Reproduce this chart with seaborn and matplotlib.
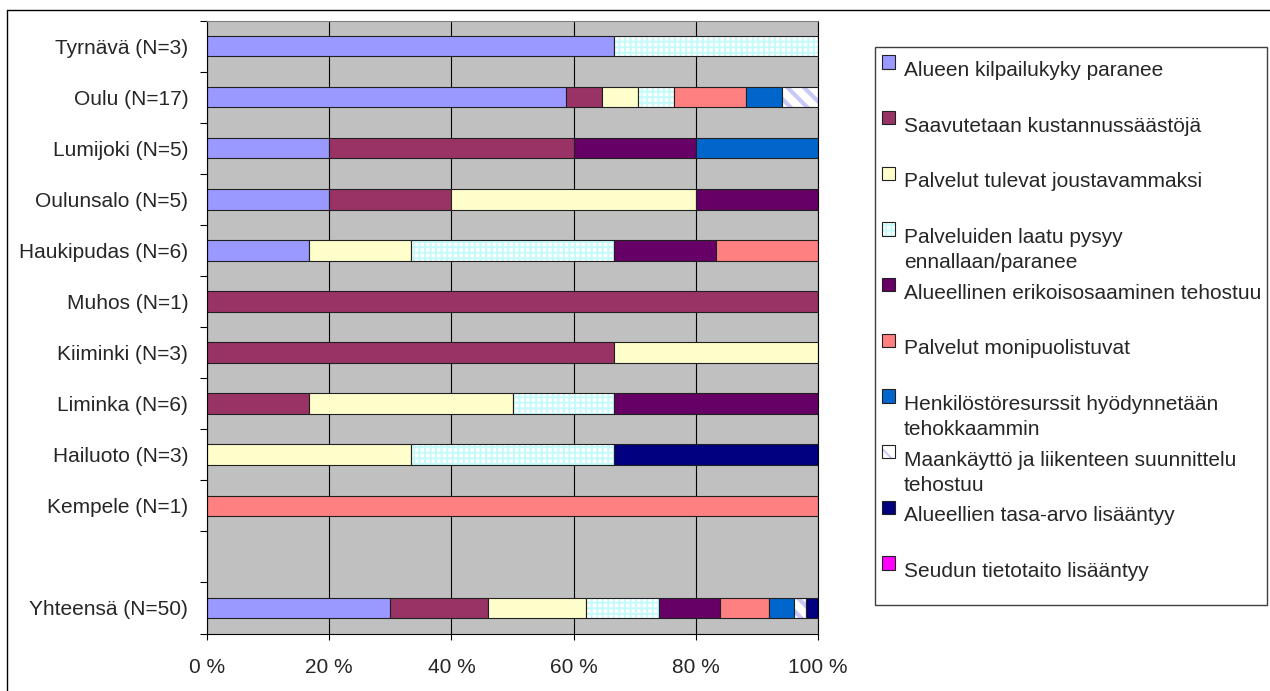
import numpy as np
import pandas as pd
import seaborn as sns
import matplotlib.pyplot as plt
import matplotlib.patches as mpatches
from matplotlib.legend_handler import HandlerPatch
from matplotlib.lines import Line2D

# rows of the chart, top to bottom (one empty row before the total)
KUNNAT = [
    "Tyrnävä (N=3)",
    "Oulu (N=17)",
    "Lumijoki (N=5)",
    "Oulunsalo (N=5)",
    "Haukipudas (N=6)",
    "Muhos (N=1)",
    "Kiiminki (N=3)",
    "Liminka (N=6)",
    "Hailuoto (N=3)",
    "Kempele (N=1)",
    " ",
    "Yhteensä (N=50)",
]

SARJAT = [
    "Alueen kilpailukyky paranee",
    "Saavutetaan kustannussäästöjä",
    "Palvelut tulevat joustavammaksi",
    "Palveluiden laatu pysyy ennallaan/paranee",
    "Alueellinen erikoisosaaminen tehostuu",
    "Palvelut monipuolistuvat",
    "Henkilöstöresurssit hyödynnetään tehokkaammin",
    "Maankäyttö ja liikenteen suunnittelu tehostuu",
    "Alueellien tasa-arvo lisääntyy",
    "Seudun tietotaito lisääntyy",
]

LEGEND_LABELS = [
    "Alueen kilpailukyky paranee\n ",
    "Saavutetaan kustannussäästöjä\n ",
    "Palvelut tulevat joustavammaksi\n ",
    "Palveluiden laatu pysyy\nennallaan/paranee",
    "Alueellinen erikoisosaaminen tehostuu\n ",
    "Palvelut monipuolistuvat\n ",
    "Henkilöstöresurssit hyödynnetään\ntehokkaammin",
    "Maankäyttö ja liikenteen suunnittelu\ntehostuu",
    "Alueellien tasa-arvo lisääntyy\n ",
    "Seudun tietotaito lisääntyy\n ",
]

# answer counts per row (same order as KUNNAT)
ALUEEN = [2, 10, 1, 1, 1, 0, 0, 0, 0, 0, 0, 15]
SAAVUTETAAN = [0, 1, 2, 1, 0, 1, 2, 1, 0, 0, 0, 8]
JOUSTAVAMMAKSI = [0, 1, 0, 2, 1, 0, 1, 2, 1, 0, 0, 8]
LAATU = [1, 1, 0, 0, 2, 0, 0, 1, 1, 0, 0, 6]
ERIKOISOSAAMINEN = [0, 0, 1, 1, 1, 0, 0, 2, 0, 0, 0, 5]
MONIPUOLISTUVAT = [0, 2, 0, 0, 1, 0, 0, 0, 0, 1, 0, 4]
HENKILOSTO = [0, 1, 1, 0, 0, 0, 0, 0, 0, 0, 0, 2]
MAANKAYTTO = [0, 1, 0, 0, 0, 0, 0, 0, 0, 0, 0, 1]
TASA_ARVO = [0, 0, 0, 0, 0, 0, 0, 0, 1, 0, 0, 1]
TIETOTAITO = [0, 0, 0, 0, 0, 0, 0, 0, 0, 0, 0, 0]

XTICKS = [0, 20, 40, 60, 80, 100]

COLORS = ["#9999FF", "#993366", "#FFFFCC", "white", "#660066",
          "#FF8080", "#0066CC", "white", "#000080", "#FF00FF"]
HATCHES = [None, None, None, "+++", None, None, None, "\\\\", None, None]
HATCH_COLORS = [None, None, None, "#C4FAFA", None, None, None, "#C8C8F4", None, None]
HATCH_LW = [None, None, None, 1.4, None, None, None, 3.0, None, None]
EDGE = "#202020"
FS = 15
LINE_SHIFT = 1.02

sns.set_style("white")
plt.rcParams["font.family"] = ["Liberation Sans", "DejaVu Sans"]
plt.rcParams["hatch.linewidth"] = 1.4


def _handle_top(legend, orig_handle, xdescent, ydescent, width, height, fontsize):
    # colour box next to the first text line, like Excel does
    return mpatches.Rectangle((-xdescent, -ydescent + LINE_SHIFT * fontsize), width, height)


counts = np.array([ALUEEN, SAAVUTETAAN, JOUSTAVAMMAKSI, LAATU, ERIKOISOSAAMINEN,
                   MONIPUOLISTUVAT, HENKILOSTO, MAANKAYTTO, TASA_ARVO, TIETOTAITO], dtype=float)
totals = counts.sum(axis=0)
pct = np.divide(counts * 100, totals, out=np.zeros_like(counts), where=totals > 0)
left = np.cumsum(pct, axis=0) - pct

rows = []
for i, sarja in enumerate(SARJAT):
    for j, kunta in enumerate(KUNNAT):
        rows.append({"sarja": sarja, "kunta": kunta, "pct": pct[i, j], "left": left[i, j]})
df = pd.DataFrame(rows)

fig = plt.figure(figsize=(12.7, 6.91), dpi=100)
ax = fig.add_axes([207 / 1270, 1 - 633.5 / 691, (818 - 207) / 1270, (633.5 - 20.5) / 691])
ax.set_facecolor("#C0C0C0")

for i, sarja in enumerate(SARJAT):
    sub = df[(df["sarja"] == sarja) & (df["pct"] > 0)]
    if sub.empty:
        continue
    common = dict(data=sub, x="pct", y="kunta", order=KUNNAT, orient="h", width=0.4,
                  saturation=1, errorbar=None, left=sub["left"].to_numpy(), ax=ax)
    if HATCHES[i]:
        n0 = len(ax.patches)
        sns.barplot(color="white", hatch=HATCHES[i], edgecolor=HATCH_COLORS[i],
                    linewidth=0, **common)
        for p in ax.patches[n0:]:
            if hasattr(p, "set_hatch_linewidth"):
                p.set_hatch_linewidth(HATCH_LW[i])
        sns.barplot(fill=False, color=EDGE, linewidth=0.8, **common)
    else:
        sns.barplot(color=COLORS[i], edgecolor=EDGE, linewidth=0.8, **common)

n = len(KUNNAT)
ax.set_ylim(n - 0.5, -0.5)
ax.set_yticks(np.arange(n + 1) - 0.5)
ax.set_yticklabels([])
ax.set_yticks(np.arange(n), minor=True)
ax.set_yticklabels(KUNNAT, minor=True)
ax.tick_params(axis="y", which="major", left=True, length=5, width=0.8, color="black")
ax.tick_params(axis="y", which="minor", left=True, length=0, pad=13.5, labelsize=FS)

ax.set_xlim(0, 100)
ax.set_xticks(XTICKS)
ax.set_xticklabels([f"{t} %" for t in XTICKS])
ax.tick_params(axis="x", bottom=True, length=4.6, width=0.8, color="black", pad=13, labelsize=FS)
ax.grid(axis="x", color="black", linewidth=0.8)
ax.grid(axis="y", visible=False)
ax.set_axisbelow(True)
ax.set_xlabel("")
ax.set_ylabel("")
for side in ["left", "bottom", "right"]:
    ax.spines[side].set_color("black")
    ax.spines[side].set_linewidth(0.8)
ax.spines["top"].set_color("#808080")
ax.spines["top"].set_linewidth(0.8)

handles = []
for i in range(len(SARJAT)):
    if HATCHES[i]:
        hp = mpatches.Patch(facecolor="white", edgecolor=HATCH_COLORS[i], hatch=HATCHES[i], linewidth=0)
        handles.append((hp, mpatches.Patch(facecolor="none", edgecolor=EDGE, linewidth=0.8)))
    else:
        handles.append(mpatches.Patch(facecolor=COLORS[i], edgecolor=EDGE, linewidth=0.8))

leg = fig.legend(
    handles, LEGEND_LABELS,
    loc="upper left",
    bbox_to_anchor=(882 / 1270, 1 - 61 / 691),
    handler_map={mpatches.Patch: HandlerPatch(patch_func=_handle_top)},
    handlelength=0.6, handleheight=0.6, handletextpad=0.45,
    labelspacing=0.56, borderpad=0, borderaxespad=0,
    frameon=False, fontsize=FS,
)
for t in leg.get_texts():
    t.set_linespacing(1.4)

# legend box
fig.add_artist(mpatches.Rectangle((875 / 1270, 1 - 605 / 691), (1267 - 875) / 1270, (605 - 47) / 691,
                                  transform=fig.transFigure, fill=False, edgecolor="#404040", lw=1))

# outer chart frame (only top and left edges are inside the picture)
fig.add_artist(Line2D([7 / 1270, 1], [1 - 10 / 691] * 2, transform=fig.transFigure, color="black", lw=1))
fig.add_artist(Line2D([7 / 1270] * 2, [0, 1 - 10 / 691], transform=fig.transFigure, color="black", lw=1))

fig.savefig("out.png", dpi=100)
